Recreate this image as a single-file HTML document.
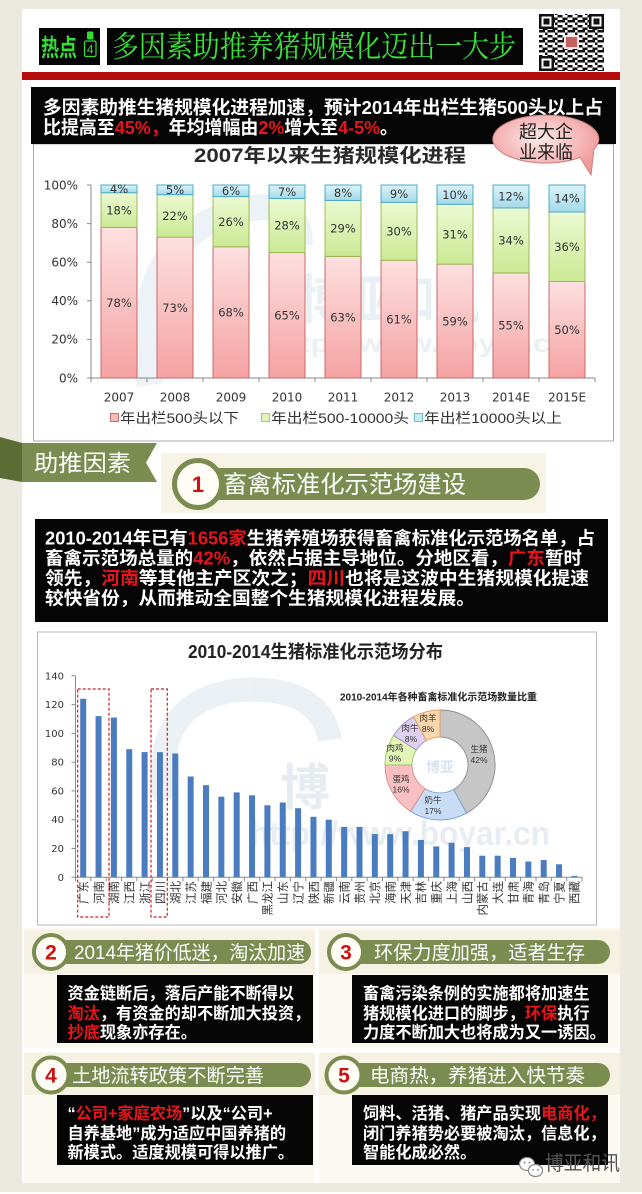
<!DOCTYPE html>
<html><head><meta charset="utf-8">
<style>
html,body{margin:0;padding:0;background:#ebe9e0;}
svg{display:block;}
.c{font-family:"Liberation Sans","Noto Sans CJK SC",sans-serif;}
.d{font-family:"DejaVu Sans",sans-serif;}
.b{font-family:"Liberation Sans","Noto Sans CJK SC",sans-serif;font-weight:bold;fill:#fff;}
.r{fill:#e8141a;}
</style></head><body>
<svg width="642" height="1194" viewBox="0 0 642 1194" xmlns="http://www.w3.org/2000/svg">
<defs>
<linearGradient id="gR" x1="0" y1="0" x2="0" y2="1"><stop offset="0" stop-color="#fde0e0"/><stop offset="1" stop-color="#f5a2a2"/></linearGradient>
<linearGradient id="gG" x1="0" y1="0" x2="0" y2="1"><stop offset="0" stop-color="#ecf9d2"/><stop offset="1" stop-color="#cbe994"/></linearGradient>
<linearGradient id="gB" x1="0" y1="0" x2="0" y2="1"><stop offset="0" stop-color="#dcf3fa"/><stop offset="1" stop-color="#a3d9e9"/></linearGradient>
<radialGradient id="gBub" cx="0.45" cy="0.4" r="0.6"><stop offset="0" stop-color="#fde9e9"/><stop offset="1" stop-color="#f19a9a"/></radialGradient>
<pattern id="qr" width="10" height="10" patternUnits="userSpaceOnUse">
<rect x="0" y="0" width="2.5" height="2.5" fill="#111"/><rect x="2.5" y="0" width="2.5" height="2.5" fill="#111"/><rect x="7.5" y="0" width="2.5" height="2.5" fill="#111"/><rect x="5" y="2.5" width="2.5" height="2.5" fill="#111"/><rect x="0" y="5" width="2.5" height="2.5" fill="#111"/><rect x="7.5" y="5" width="2.5" height="2.5" fill="#111"/><rect x="2.5" y="7.5" width="2.5" height="2.5" fill="#111"/><rect x="5" y="7.5" width="2.5" height="2.5" fill="#111"/>
</pattern>
</defs>

<!-- backgrounds -->
<rect x="0" y="0" width="642" height="1194" fill="#ebe9e0"/>
<rect x="22" y="9" width="598" height="1174" fill="#ffffff"/>
<rect x="0" y="1192" width="642" height="2" fill="#ffffff"/>

<!-- header -->
<rect x="39" y="28" width="61" height="37" fill="#060606"/>
<text x="41" y="56" class="c" font-size="24" font-weight="bold" fill="#33dd33" textLength="36" lengthAdjust="spacingAndGlyphs">热点</text>
<rect x="87" y="31.5" width="6.5" height="8" rx="1.5" fill="#33dd33"/>
<rect x="84.5" y="41" width="11.5" height="15.5" rx="1.5" fill="none" stroke="#33dd33" stroke-width="1.2"/>
<text x="90.2" y="53.5" class="c" font-size="12" fill="#33dd33" text-anchor="middle">4</text>
<rect x="107" y="28" width="416" height="37" fill="#060606"/>
<text x="112" y="57" font-family="'Noto Serif CJK SC','Noto Sans CJK SC',serif" font-size="30" fill="#3be23b" textLength="404" lengthAdjust="spacingAndGlyphs">多因素助推养猪规模化迈出一大步</text>
<!-- QR -->
<rect x="539" y="14" width="65" height="57" fill="#fff"/>
<rect x="539" y="14" width="65" height="57" fill="url(#qr)"/>
<g>
<rect x="539" y="14" width="15" height="15" fill="#111"/><rect x="541.5" y="16.5" width="10" height="10" fill="#fff"/><rect x="543.5" y="18.5" width="6" height="6" fill="#111"/>
<rect x="589" y="14" width="15" height="15" fill="#111"/><rect x="591.5" y="16.5" width="10" height="10" fill="#fff"/><rect x="593.5" y="18.5" width="6" height="6" fill="#111"/>
<rect x="539" y="56" width="15" height="15" fill="#111"/><rect x="541.5" y="58.5" width="10" height="10" fill="#fff"/><rect x="543.5" y="60.5" width="6" height="6" fill="#111"/>
<rect x="564" y="35" width="15" height="14" fill="#f3e6e6"/>
<rect x="566" y="37" width="11" height="10" fill="#c86060"/>
</g>
<rect x="22" y="72" width="598" height="8" fill="#b30d0d"/>

<!-- chart 1 box -->
<rect x="33.5" y="144" width="580" height="297" fill="#fff" stroke="#a8a8a8" stroke-width="1"/>
<!-- watermark chart 1 -->
<g opacity="0.55">
<path d="M150 385 Q130 250 225 215 Q300 190 300 245" fill="none" stroke="#dfe7f0" stroke-width="26"/>
<text x="300" y="318" class="c" font-size="52" font-weight="bold" fill="#d7e2ee" textLength="180" lengthAdjust="spacingAndGlyphs">博亚和讯</text>
<text x="270" y="352" class="c" font-size="26" font-weight="bold" fill="#dbe4ee" textLength="300" lengthAdjust="spacingAndGlyphs">http://www.boyar.cn</text>
</g>
<text x="330" y="162" class="c" font-size="19" font-weight="bold" fill="#2a2a2a" text-anchor="middle" textLength="272" lengthAdjust="spacingAndGlyphs">2007年以来生猪规模化进程</text>

<!-- y labels chart1 -->
<g class="d" font-size="12" fill="#333" text-anchor="end">
<text x="78" y="189.3">100%</text>
<text x="78" y="227.9">80%</text>
<text x="78" y="266.5">60%</text>
<text x="78" y="305.1">40%</text>
<text x="78" y="343.7">20%</text>
<text x="78" y="382.3">0%</text>
</g>
<path d="M91 185V378H595M87 185H91M87 223.6H91M87 262.2H91M87 300.8H91M87 339.4H91M87 378H91M91 378V382M147 378V382M203 378V382M259 378V382M315 378V382M371 378V382M427 378V382M483 378V382M539 378V382M595 378V382" fill="none" stroke="#888" stroke-width="1"/>

<!-- stacked bars -->
<g stroke-width="1">
<g stroke="#c86a6a" fill="url(#gR)">
<rect x="101" y="227.46" width="36" height="150.54"/>
<rect x="157" y="237.11" width="36" height="140.89"/>
<rect x="213" y="246.76" width="36" height="131.24"/>
<rect x="269" y="252.55" width="36" height="125.45"/>
<rect x="325" y="256.41" width="36" height="121.59"/>
<rect x="381" y="260.27" width="36" height="117.73"/>
<rect x="437" y="264.13" width="36" height="113.87"/>
<rect x="493" y="272.9" width="36" height="105.1"/>
<rect x="549" y="281.5" width="36" height="96.5"/>
</g>
<g stroke="#9bbb59" fill="url(#gG)">
<rect x="101" y="192.72" width="36" height="34.74"/>
<rect x="157" y="194.65" width="36" height="42.46"/>
<rect x="213" y="196.58" width="36" height="50.18"/>
<rect x="269" y="198.51" width="36" height="54.04"/>
<rect x="325" y="200.44" width="36" height="55.97"/>
<rect x="381" y="202.37" width="36" height="57.9"/>
<rect x="437" y="204.3" width="36" height="59.83"/>
<rect x="493" y="207.93" width="36" height="64.97"/>
<rect x="549" y="212.02" width="36" height="69.48"/>
</g>
<g stroke="#4bacc6" fill="url(#gB)">
<rect x="101" y="185" width="36" height="7.72"/>
<rect x="157" y="185" width="36" height="9.65"/>
<rect x="213" y="185" width="36" height="11.58"/>
<rect x="269" y="185" width="36" height="13.51"/>
<rect x="325" y="185" width="36" height="15.44"/>
<rect x="381" y="185" width="36" height="17.37"/>
<rect x="437" y="185" width="36" height="19.3"/>
<rect x="493" y="185" width="36" height="22.93"/>
<rect x="549" y="185" width="36" height="27.02"/>
</g>
</g>
<g class="d" font-size="11.5" fill="#333" text-anchor="middle">
<text x="119" y="307">78%</text><text x="119" y="214.3">18%</text><text x="119" y="193">4%</text>
<text x="175" y="311.8">73%</text><text x="175" y="220.1">22%</text><text x="175" y="194">5%</text>
<text x="231" y="316.6">68%</text><text x="231" y="225.9">26%</text><text x="231" y="195">6%</text>
<text x="287" y="319.5">65%</text><text x="287" y="229.7">28%</text><text x="287" y="196">7%</text>
<text x="343" y="321.4">63%</text><text x="343" y="232.6">29%</text><text x="343" y="196.9">8%</text>
<text x="399" y="323.3">61%</text><text x="399" y="235.5">30%</text><text x="399" y="197.9">9%</text>
<text x="455" y="325.3">59%</text><text x="455" y="238.4">31%</text><text x="455" y="198.9">10%</text>
<text x="511" y="329.7">55%</text><text x="511" y="244.6">34%</text><text x="511" y="200.7">12%</text>
<text x="567" y="334">50%</text><text x="567" y="251">36%</text><text x="567" y="202.7">14%</text>
</g>
<g class="d" font-size="12" fill="#333" text-anchor="middle">
<text x="119" y="401.5">2007</text><text x="175" y="401.5">2008</text><text x="231" y="401.5">2009</text><text x="287" y="401.5">2010</text><text x="343" y="401.5">2011</text><text x="399" y="401.5">2012</text><text x="455" y="401.5">2013</text><text x="511" y="401.5">2014E</text><text x="567" y="401.5">2015E</text>
</g>
<!-- legend -->
<rect x="110.5" y="413.5" width="8" height="8" fill="#f8baba" stroke="#c0504d" stroke-width="0.8"/>
<text x="120" y="423" class="c" font-size="14" fill="#333" textLength="119" lengthAdjust="spacingAndGlyphs">年出栏500头以下</text>
<rect x="261.5" y="413.5" width="8" height="8" fill="#dff3b6" stroke="#9bbb59" stroke-width="0.8"/>
<text x="271" y="423" class="c" font-size="14" fill="#333" textLength="138" lengthAdjust="spacingAndGlyphs">年出栏500-10000头</text>
<rect x="414.5" y="413.5" width="8" height="8" fill="#c5ecf6" stroke="#4bacc6" stroke-width="0.8"/>
<text x="424" y="423" class="c" font-size="14" fill="#333" textLength="138" lengthAdjust="spacingAndGlyphs">年出栏10000头以上</text>

<!-- top black box -->
<rect x="31" y="87" width="585" height="57" fill="#050505"/>
<text x="43" y="114" class="b" font-size="18.5" textLength="560" lengthAdjust="spacingAndGlyphs">多因素助推生猪规模化进程加速，预计2014年出栏生猪500头以上占</text>
<text x="43" y="134" class="b" font-size="18.5" textLength="355" lengthAdjust="spacingAndGlyphs">比提高至<tspan class="r">45%，</tspan>年均增幅由<tspan class="r">2%</tspan>增大至<tspan class="r">4-5%</tspan>。</text>

<!-- bubble -->
<path d="M580.1 157.4 L591 175 L594 149.1 A53 24 0 1 0 580.1 157.4 Z" fill="url(#gBub)" stroke="#c98080" stroke-width="1"/>
<text x="546" y="138" class="c" font-size="18" fill="#222" text-anchor="middle">超大企</text>
<text x="546" y="158.5" class="c" font-size="18" fill="#222" text-anchor="middle">业来临</text>

<!-- ribbon 助推因素 -->
<polygon points="0,437 22,443 22,482 0,478" fill="#5b6d34"/>
<polygon points="22,443 157,443 146,462.5 157,482 22,482" fill="#7a8c50"/>
<text x="34" y="471" class="c" font-size="23" fill="#fff" textLength="97" lengthAdjust="spacingAndGlyphs">助推因素</text>

<!-- section 1 header -->
<rect x="161" y="453" width="385" height="60" fill="#f8f4e5"/>
<rect x="198" y="468" width="342" height="32" rx="16" fill="#7a8c50"/>
<circle cx="198" cy="484" r="23.5" fill="#fffdf6" stroke="#7a8c50" stroke-width="5"/>
<text x="198" y="492" class="c" font-size="22" font-weight="bold" fill="#cc1111" text-anchor="middle">1</text>
<text x="223" y="492.5" class="c" font-size="24" fill="#fff" textLength="243" lengthAdjust="spacingAndGlyphs">畜禽标准化示范场建设</text>

<!-- section 1 box -->
<rect x="35" y="519" width="573" height="103" fill="#050505"/>
<text x="45" y="544.5" class="b" font-size="18" textLength="550" lengthAdjust="spacingAndGlyphs">2010-2014年已有<tspan class="r">1656家</tspan>生猪养殖场获得畜禽标准化示范场名单，占</text>
<text x="45" y="564.5" class="b" font-size="18" textLength="537" lengthAdjust="spacingAndGlyphs">畜禽示范场总量的<tspan class="r">42%</tspan>，依然占据主导地位。分地区看，<tspan class="r">广东</tspan>暂时</text>
<text x="45" y="584.5" class="b" font-size="18" textLength="544" lengthAdjust="spacingAndGlyphs">领先，<tspan class="r">河南</tspan>等其他主产区次之；<tspan class="r">四川</tspan>也将是这波中生猪规模化提速</text>
<text x="45" y="604.5" class="b" font-size="18" textLength="430" lengthAdjust="spacingAndGlyphs">较快省份，从而推动全国整个生猪规模化进程发展。</text>

<!-- chart 2 box -->
<rect x="37.5" y="632" width="559" height="293" fill="#fff" stroke="#b8b8b8" stroke-width="1"/>
<g opacity="0.6">
<path d="M165 800 Q150 700 240 690 Q320 685 330 740" fill="none" stroke="#dfe7f0" stroke-width="24"/>
<text x="280" y="805" class="c" font-size="50" font-weight="bold" fill="#d6e0eb">博</text>
<text x="250" y="845" class="c" font-size="34" font-weight="bold" fill="#d9e2ec" textLength="300" lengthAdjust="spacingAndGlyphs">http://www.boyar.cn</text>
</g>
<text x="188" y="658" class="c" font-size="18" font-weight="bold" fill="#222" textLength="255" lengthAdjust="spacingAndGlyphs">2010-2014生猪标准化示范场分布</text>

<g class="d" font-size="10" fill="#333" text-anchor="end">
<text x="64" y="880.8">0</text>
<text x="64" y="852">20</text>
<text x="64" y="823.2">40</text>
<text x="64" y="794.4">60</text>
<text x="64" y="765.7">80</text>
<text x="64" y="736.9">100</text>
<text x="64" y="708.1">120</text>
<text x="64" y="679.3">140</text>
</g>
<path d="M75.5 675.8V877.3H582.05M71.5 675.8H75.5M71.5 704.6H75.5M71.5 733.4H75.5M71.5 762.2H75.5M71.5 790.9H75.5M71.5 819.7H75.5M71.5 848.5H75.5M71.5 877.3H75.5M75.5 877.3v4M90.85 877.3v4M106.2 877.3v4M121.55 877.3v4M136.9 877.3v4M152.25 877.3v4M167.6 877.3v4M182.95 877.3v4M198.3 877.3v4M213.65 877.3v4M229 877.3v4M244.35 877.3v4M259.7 877.3v4M275.05 877.3v4M290.4 877.3v4M305.75 877.3v4M321.1 877.3v4M336.45 877.3v4M351.8 877.3v4M367.15 877.3v4M382.5 877.3v4M397.85 877.3v4M413.2 877.3v4M428.55 877.3v4M443.9 877.3v4M459.25 877.3v4M474.6 877.3v4M489.95 877.3v4M505.3 877.3v4M520.65 877.3v4M536 877.3v4M551.35 877.3v4M566.7 877.3v4M582.05 877.3v4" fill="none" stroke="#8a8a8a" stroke-width="1"/>

<g fill="#4a7cbf">
<rect x="80.2" y="698.8" width="6" height="178.5"/>
<rect x="95.55" y="716.1" width="6" height="161.2"/>
<rect x="110.9" y="717.5" width="6" height="159.8"/>
<rect x="126.25" y="749.2" width="6" height="128.1"/>
<rect x="141.6" y="752.1" width="6" height="125.2"/>
<rect x="156.95" y="752.1" width="6" height="125.2"/>
<rect x="172.3" y="753.5" width="6" height="123.8"/>
<rect x="187.65" y="776.5" width="6" height="100.8"/>
<rect x="203" y="785.2" width="6" height="92.1"/>
<rect x="218.35" y="796.7" width="6" height="80.6"/>
<rect x="233.7" y="792.4" width="6" height="84.9"/>
<rect x="249.05" y="795.3" width="6" height="82"/>
<rect x="264.4" y="805.3" width="6" height="72"/>
<rect x="279.75" y="802.5" width="6" height="74.8"/>
<rect x="295.1" y="808.2" width="6" height="69.1"/>
<rect x="310.45" y="816.8" width="6" height="60.5"/>
<rect x="325.8" y="819.7" width="6" height="57.6"/>
<rect x="341.15" y="826.9" width="6" height="50.4"/>
<rect x="356.5" y="826.9" width="6" height="50.4"/>
<rect x="371.85" y="834.1" width="6" height="43.2"/>
<rect x="387.2" y="834.1" width="6" height="43.2"/>
<rect x="402.55" y="831.2" width="6" height="46.1"/>
<rect x="417.9" y="839.9" width="6" height="37.4"/>
<rect x="433.25" y="846.4" width="6" height="30.9"/>
<rect x="448.6" y="842.8" width="6" height="34.5"/>
<rect x="463.95" y="847.1" width="6" height="30.2"/>
<rect x="479.3" y="855.7" width="6" height="21.6"/>
<rect x="494.65" y="855.7" width="6" height="21.6"/>
<rect x="510" y="857.9" width="6" height="19.4"/>
<rect x="525.35" y="861.5" width="6" height="15.8"/>
<rect x="540.7" y="860" width="6" height="17.3"/>
<rect x="556.05" y="864.3" width="6" height="13"/>
<rect x="571.4" y="875.9" width="6" height="1.4"/>
</g>

<g class="c" font-size="11.5" fill="#333" text-anchor="end">
<text transform="translate(87.5,881) rotate(-90)">广东</text>
<text transform="translate(102.85,881) rotate(-90)">河南</text>
<text transform="translate(118.2,881) rotate(-90)">湖南</text>
<text transform="translate(133.55,881) rotate(-90)">江西</text>
<text transform="translate(148.9,881) rotate(-90)">浙江</text>
<text transform="translate(164.25,881) rotate(-90)">四川</text>
<text transform="translate(179.6,881) rotate(-90)">湖北</text>
<text transform="translate(194.95,881) rotate(-90)">江苏</text>
<text transform="translate(210.3,881) rotate(-90)">福建</text>
<text transform="translate(225.65,881) rotate(-90)">河北</text>
<text transform="translate(241,881) rotate(-90)">安徽</text>
<text transform="translate(256.35,881) rotate(-90)">广西</text>
<text transform="translate(271.7,881) rotate(-90)">黑龙江</text>
<text transform="translate(287.05,881) rotate(-90)">山东</text>
<text transform="translate(302.4,881) rotate(-90)">辽宁</text>
<text transform="translate(317.75,881) rotate(-90)">陕西</text>
<text transform="translate(333.1,881) rotate(-90)">新疆</text>
<text transform="translate(348.45,881) rotate(-90)">云南</text>
<text transform="translate(363.8,881) rotate(-90)">贵州</text>
<text transform="translate(379.15,881) rotate(-90)">北京</text>
<text transform="translate(394.5,881) rotate(-90)">海南</text>
<text transform="translate(409.85,881) rotate(-90)">天津</text>
<text transform="translate(425.2,881) rotate(-90)">吉林</text>
<text transform="translate(440.55,881) rotate(-90)">重庆</text>
<text transform="translate(455.9,881) rotate(-90)">上海</text>
<text transform="translate(471.25,881) rotate(-90)">山西</text>
<text transform="translate(486.6,881) rotate(-90)">内蒙古</text>
<text transform="translate(501.95,881) rotate(-90)">大连</text>
<text transform="translate(517.3,881) rotate(-90)">甘肃</text>
<text transform="translate(532.65,881) rotate(-90)">青海</text>
<text transform="translate(548,881) rotate(-90)">青岛</text>
<text transform="translate(563.35,881) rotate(-90)">宁夏</text>
<text transform="translate(578.7,881) rotate(-90)">西藏</text>
</g>
<g fill="none" stroke="#cc2222" stroke-width="1.2" stroke-dasharray="3,2">
<rect x="77.7" y="689" width="31.3" height="228"/>
<rect x="151" y="689" width="16.3" height="228"/>
</g>

<!-- donut -->
<text x="340" y="700.5" class="c" font-size="10" font-weight="bold" fill="#222" textLength="197" lengthAdjust="spacingAndGlyphs">2010-2014年各种畜禽标准化示范场数量比重</text>
<g stroke-width="0.9">
<path d="M440 710 A55 55 0 0 1 466.5 813.2 L453.5 789.5 A28 28 0 0 0 440 737 Z" fill="#c6c6c6" stroke="#8e8e8e"/>
<path d="M466.5 813.2 A55 55 0 0 1 410.5 811.4 L425 788.6 A28 28 0 0 0 453.5 789.5 Z" fill="#c9dcf6" stroke="#7c9fd6"/>
<path d="M410.5 811.4 A55 55 0 0 1 385 765 L412 765 A28 28 0 0 0 425 788.6 Z" fill="#f8c0c0" stroke="#d58a8a"/>
<path d="M385 765 A55 55 0 0 1 393.6 735.5 L416.4 750 A28 28 0 0 0 412 765 Z" fill="#e3f5b6" stroke="#9cc460"/>
<path d="M393.6 735.5 A55 55 0 0 1 413.5 716.8 L426.5 740.5 A28 28 0 0 0 416.4 750 Z" fill="#ddd0f1" stroke="#a08cc8"/>
<path d="M413.5 716.8 A55 55 0 0 1 440 710 L440 737 A28 28 0 0 0 426.5 740.5 Z" fill="#fcd6ad" stroke="#e4a060"/>
</g>
<text x="440" y="772" class="c" font-size="14" font-weight="bold" fill="#d9e3ee" text-anchor="middle">博亚</text>
<g class="c" font-size="8.5" fill="#333" text-anchor="middle">
<text x="479" y="752">生猪</text><text x="479" y="763">42%</text>
<text x="433" y="803">奶牛</text><text x="433" y="814">17%</text>
<text x="401" y="782">蛋鸡</text><text x="401" y="792.5">16%</text>
<text x="395" y="751">肉鸡</text><text x="395" y="761.5">9%</text>
<text x="410" y="731">肉牛</text><text x="411" y="742">8%</text>
<text x="428" y="721">肉羊</text><text x="428" y="732">8%</text>
</g>

<!-- lower panels -->
<rect x="24" y="928" width="291" height="120" fill="#fbf9f1"/>
<rect x="319" y="928" width="301" height="120" fill="#fbf9f1"/>
<rect x="24" y="1052" width="291" height="131" fill="#fbf9f1"/>
<rect x="319" y="1052" width="301" height="131" fill="#fbf9f1"/>
<rect x="24" y="930" width="291" height="44" fill="#f6f2e3"/>
<rect x="319" y="930" width="301" height="44" fill="#f6f2e3"/>
<rect x="24" y="1053" width="291" height="42" fill="#f6f2e3"/>
<rect x="319" y="1053" width="301" height="42" fill="#f6f2e3"/>

<!-- section 2 -->
<rect x="51" y="940" width="260" height="24" rx="12" fill="#7a8c50"/>
<circle cx="51" cy="952" r="17" fill="#fffdf6" stroke="#7a8c50" stroke-width="4"/>
<text x="51" y="959.5" class="c" font-size="21" font-weight="bold" fill="#cc1111" text-anchor="middle">2</text>
<text x="74" y="959" class="c" font-size="19" fill="#fff" textLength="231" lengthAdjust="spacingAndGlyphs">2014年猪价低迷，淘汰加速</text>
<!-- section 3 -->
<rect x="346" y="940" width="264" height="24" rx="12" fill="#7a8c50"/>
<circle cx="346" cy="952" r="17" fill="#fffdf6" stroke="#7a8c50" stroke-width="4"/>
<text x="346" y="959.5" class="c" font-size="21" font-weight="bold" fill="#cc1111" text-anchor="middle">3</text>
<text x="374" y="959" class="c" font-size="19" fill="#fff" textLength="211" lengthAdjust="spacingAndGlyphs">环保力度加强，适者生存</text>

<rect x="57" y="975" width="256" height="68" fill="#050505"/>
<text x="67.5" y="999" class="b" font-size="16.2">资金链断后，落后产能不断得以</text>
<text x="67.5" y="1019" class="b" font-size="16.2"><tspan class="r">淘汰</tspan>，有资金的却不断加大投资，</text>
<text x="67.5" y="1038" class="b" font-size="16.2"><tspan class="r">抄底</tspan>现象亦存在。</text>

<rect x="352" y="975" width="256" height="68" fill="#050505"/>
<text x="363" y="999" class="b" font-size="16.2">畜禽污染条例的实施都将加速生</text>
<text x="363" y="1019" class="b" font-size="16.2">猪规模化进口的脚步，<tspan class="r">环保</tspan>执行</text>
<text x="363" y="1038" class="b" font-size="16.2">力度不断加大也将成为又一诱因。</text>

<!-- section 4 -->
<rect x="51" y="1063" width="260" height="24" rx="12" fill="#7a8c50"/>
<circle cx="51" cy="1075" r="17.5" fill="#fffdf6" stroke="#7a8c50" stroke-width="4"/>
<text x="51" y="1082.5" class="c" font-size="21" font-weight="bold" fill="#cc1111" text-anchor="middle">4</text>
<text x="72" y="1082" class="c" font-size="19" fill="#fff" textLength="192" lengthAdjust="spacingAndGlyphs">土地流转政策不断完善</text>
<!-- section 5 -->
<rect x="344" y="1063" width="266" height="24" rx="12" fill="#7a8c50"/>
<circle cx="344" cy="1075" r="17.5" fill="#fffdf6" stroke="#7a8c50" stroke-width="4"/>
<text x="344" y="1082.5" class="c" font-size="21" font-weight="bold" fill="#cc1111" text-anchor="middle">5</text>
<text x="370" y="1082" class="c" font-size="19" fill="#fff" textLength="215" lengthAdjust="spacingAndGlyphs">电商热，养猪进入快节奏</text>

<rect x="57" y="1095" width="256" height="70" fill="#050505"/>
<text x="67.5" y="1119" class="b" font-size="16.2">“<tspan class="r">公司+家庭农场</tspan>”以及“公司+</text>
<text x="67.5" y="1139" class="b" font-size="16.2">自养基地”成为适应中国养猪的</text>
<text x="67.5" y="1158" class="b" font-size="16.2">新模式。适度规模可得以推广。</text>

<rect x="352" y="1095" width="256" height="70" fill="#050505"/>
<text x="363" y="1119" class="b" font-size="16.2">饲料、活猪、猪产品实现<tspan class="r">电商化，</tspan></text>
<text x="363" y="1139" class="b" font-size="16.2">闭门养猪势必要被淘汰，信息化，</text>
<text x="363" y="1158" class="b" font-size="16.2">智能化成必然。</text>

<!-- wechat logo -->
<ellipse cx="527" cy="1164" rx="7.5" ry="6.5" fill="#fff" stroke="#888" stroke-width="1.2"/>
<ellipse cx="535.5" cy="1170.5" rx="7" ry="6" fill="#fff" stroke="#888" stroke-width="1.2"/>
<circle cx="524.5" cy="1162.5" r="1" fill="#888"/><circle cx="529.5" cy="1162.5" r="1" fill="#888"/>
<circle cx="533" cy="1170" r="0.9" fill="#888"/><circle cx="538" cy="1170" r="0.9" fill="#888"/>
<text x="545" y="1170" class="c" font-size="20" fill="#555" textLength="75" lengthAdjust="spacingAndGlyphs">博亚和讯</text>
</svg>
</body></html>
